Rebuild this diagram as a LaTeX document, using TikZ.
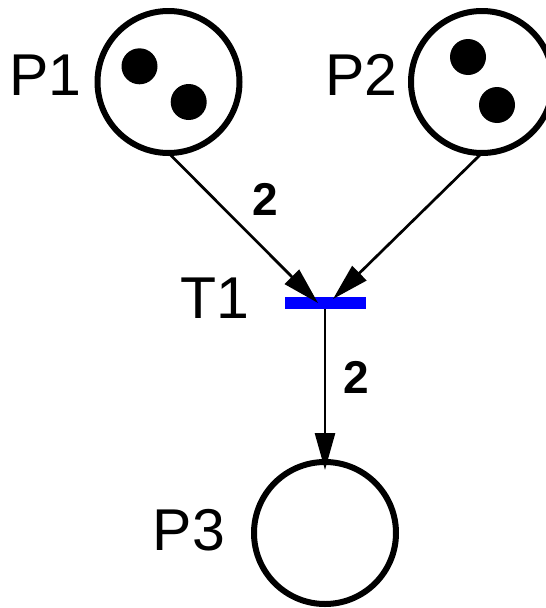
\documentclass[tikz,border=0pt]{standalone}
\usepackage{fontspec}
\setmainfont{Liberation Sans}
\usetikzlibrary{arrows.meta}
\begin{document}
\begin{tikzpicture}[x=1pt,y=-1pt,
 place/.style={circle,draw=black,line width=6pt,minimum size=142pt,inner sep=0pt,outer sep=0pt},
 token/.style={circle,fill=black,minimum size=36pt,inner sep=0pt},
 trans/.style={rectangle,fill=blue,minimum width=81pt,minimum height=12pt,inner sep=0pt,outer sep=0pt},
 lab/.style={font=\fontsize{59}{60}\selectfont,inner sep=0pt,anchor=base},
 wlab/.style={font=\fontsize{46}{48}\selectfont\bfseries,inner sep=0pt,anchor=base},
 arc/.style={line width=2.7pt,-{Triangle[length=37pt,width=20pt]}}]
\useasboundingbox (0,0) rectangle (546,608);
% places
\node[place] (P1) at (168.5,82) {};
\node[place] (P2) at (482,82) {};
\node[place] (P3) at (325,533) {};
% tokens
\node[token] (P1t1) at (139.5,66.3) {};
\node[token] (P1t2) at (188.7,102) {};
\node[token] (P2t1) at (468,57) {};
\node[token] (P2t2) at (497,105) {};
% transition
\node[trans] (T1) at (325,303) {};
% labels
\node[lab] (P1lab) at (45.5,95) {P1};
\node[lab] (P2lab) at (361.5,95) {P2};
\node[lab] (T1lab) at (215,318) {T1};
\node[lab] (P3lab) at (189,550) {P3};
% arcs
\draw[arc] (P1.south) -- ([xshift=-7pt]T1.center);
\draw[arc] (P2.south) -- ([xshift=8pt,yshift=4pt]T1.center);
\draw[arc] (T1.south) -- ([yshift=-8pt]P3.north);
% weights
\node[wlab] (w1) at (265.5,215) {2};
\node[wlab] (w2) at (356.5,393) {2};
\end{tikzpicture}
\end{document}
